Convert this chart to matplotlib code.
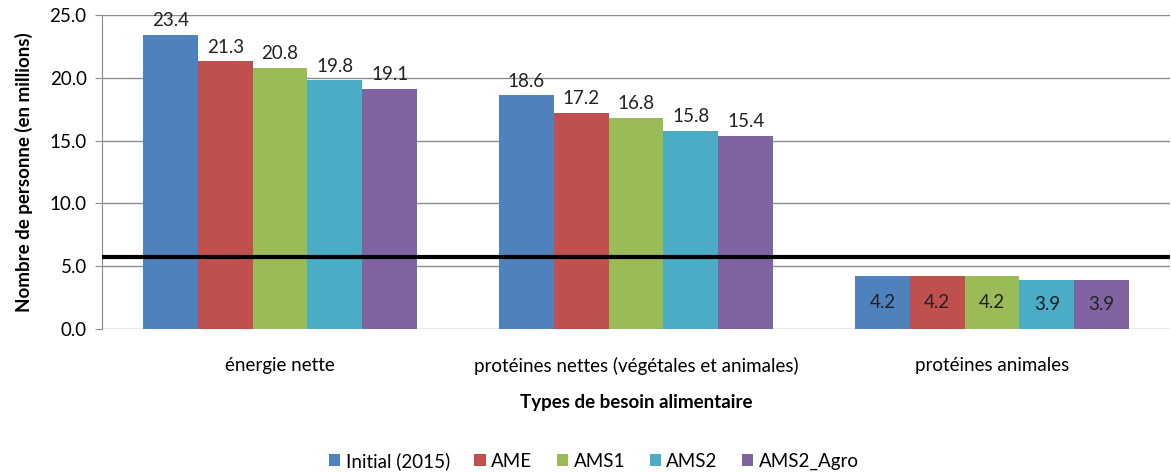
import numpy as np
import matplotlib.pyplot as plt

plt.rcParams['font.family'] = ['Lato', 'DejaVu Sans']

# ── data ──────────────────────────────────────────────────────────────
categories = ['énergie nette',
              'protéines nettes (végétales et animales)',
              'protéines animales']
series = ['Initial (2015)', 'AME', 'AMS1', 'AMS2', 'AMS2_Agro']
initial_2015 = [23.4, 18.6, 4.2]
ame = [21.3, 17.2, 4.2]
ams1 = [20.8, 16.8, 4.2]
ams2 = [19.8, 15.8, 3.9]
ams2_agro = [19.1, 15.4, 3.9]
seuil = 5.7

values = [initial_2015, ame, ams1, ams2, ams2_agro]
colors = ['#4F81BD', '#C0504D', '#9BBB59', '#4BACC6', '#8064A2']
fs = 13.5

# ── figure ────────────────────────────────────────────────────────────
fig = plt.figure(figsize=(11.71, 4.72), dpi=100)
ax = fig.add_axes([102 / 1171, 143 / 472, 1068 / 1171, 314 / 472])

x = np.arange(len(categories))
bw = 0.154
for i, (name, vals, col) in enumerate(zip(series, values, colors)):
    pos = x + (i - 2) * bw
    bars = ax.bar(pos, vals, width=bw, color=col, label=name, zorder=2)
    for j, (b, v) in enumerate(zip(bars, vals)):
        if j < 2:
            ax.text(b.get_x() + bw / 2, v + 0.45, f'{v:.1f}', ha='center',
                    va='bottom', fontsize=fs, color='#222222')
        else:
            ax.text(b.get_x() + bw / 2, v / 2, f'{v:.1f}', ha='center',
                    va='center', fontsize=fs, color='#222222')

# threshold line
ax.axhline(seuil, color='black', lw=3, zorder=3)

ax.set_xlim(-0.5, 2.5)
ax.set_ylim(0, 25)
ax.set_yticks(np.arange(0, 26, 5))
ax.set_yticklabels([f'{t:.1f}' for t in np.arange(0, 26, 5)], fontsize=fs)
ax.yaxis.grid(True, color='#8c8c8c', lw=1, zorder=0)
ax.set_axisbelow(True)

ax.set_xticks(x)
ax.set_xticklabels(categories, fontsize=fs)
ax.tick_params(axis='x', length=0, pad=20)
ax.tick_params(axis='y', length=5, color='#8c8c8c', direction='out', pad=6)

for s in ['top', 'right', 'bottom']:
    ax.spines[s].set_visible(False)
ax.spines['left'].set_color('#8c8c8c')

ax.set_ylabel('Nombre de personne (en millions)', fontsize=fs,
              fontweight='bold', labelpad=12)
ax.set_xlabel('Types de besoin alimentaire', fontsize=fs,
              fontweight='bold', labelpad=14)

ax.legend(loc='center', bbox_to_anchor=(0.5 - 42 / 1068, -0.42), ncol=5,
          frameon=False, fontsize=fs, handlelength=0.6, handleheight=0.6,
          handletextpad=0.3, columnspacing=1.3)

fig.savefig('out.png', dpi=100)
